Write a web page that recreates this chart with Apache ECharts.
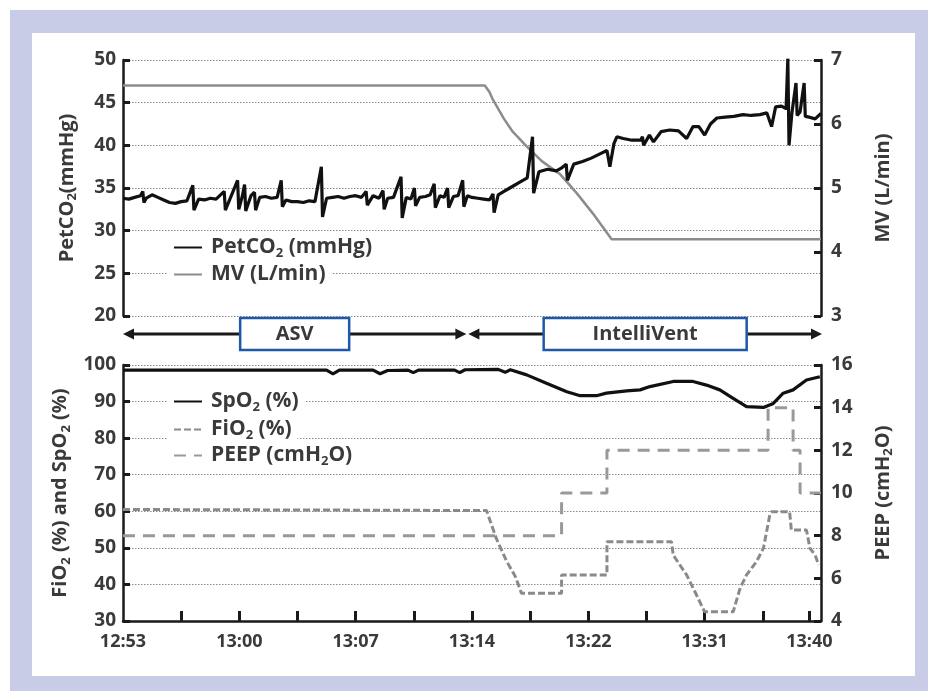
<!DOCTYPE html>
<html>
<head>
<meta charset="utf-8">
<script src="https://cdn.jsdelivr.net/npm/echarts@6/dist/echarts.min.js"></script>
<style>
  html, body { margin:0; padding:0; background:#ffffff; }
  #frame { position:absolute; left:10px; top:10px; width:918px; height:681px; background:#C8CCE6; }
  #panel { position:absolute; left:32px; top:33px; width:883px; height:643px; background:#ffffff; }
  #chart { position:absolute; left:0; top:0; width:928px; height:691px; }
</style>
</head>
<body>
<div id="frame"></div>
<div id="panel"></div>
<div id="chart"></div>
<script>
// ---------- DATA (x in tick units of the schematic time axis) ----------
const xLabelPos = [0, 2, 4, 6, 8, 10, 11.8];
const xLabels   = ['12:53', '13:00', '13:07', '13:14', '13:22', '13:31', '13:40'];
const xTickPos  = [1, 2, 3, 4, 5, 6, 7, 8, 9, 10, 11, 11.8];

const petco2 = [
  [0,33.8],[0.1,33.7],[0.2,33.9],[0.3,34.1],[0.34,34.6],[0.36,33.3],[0.4,33.8],[0.5,34.2],[0.6,33.9],
  [0.7,33.6],[0.8,33.3],[0.9,33.2],[1.0,33.4],[1.1,33.5],[1.2,35.3],[1.22,32.4],[1.3,33.7],[1.4,33.6],
  [1.5,33.8],[1.6,33.7],[1.74,34.6],[1.76,32.4],[1.85,33.9],[1.97,35.9],[1.99,32.5],[2.05,34.0],
  [2.09,35.4],[2.11,32.3],[2.2,34.1],[2.26,34.5],[2.28,32.4],[2.35,33.9],[2.45,34.0],[2.55,33.8],
  [2.65,33.9],[2.72,35.9],[2.74,32.8],[2.8,33.6],[2.9,33.4],[3.0,33.4],[3.1,33.3],[3.2,33.5],[3.3,33.4],
  [3.41,37.5],[3.43,31.6],[3.5,33.8],[3.6,33.9],[3.7,34.0],[3.8,33.8],[3.9,34.0],[4.0,34.1],[4.1,33.9],
  [4.18,34.6],[4.2,33.0],[4.3,34.1],[4.4,33.8],[4.47,34.7],[4.49,32.5],[4.55,33.8],[4.65,33.9],
  [4.78,36.3],[4.8,31.5],[4.87,33.9],[4.95,33.7],[5.01,35.0],[5.03,32.9],[5.1,33.9],[5.2,34.0],[5.28,34.2],
  [5.35,35.5],[5.37,32.7],[5.45,34.1],[5.52,33.9],[5.58,35.0],[5.6,32.7],[5.68,34.0],[5.76,34.1],
  [5.84,35.9],[5.86,32.8],[5.92,34.1],[6.0,33.9],[6.1,33.8],[6.2,33.7],[6.3,33.6],[6.36,34.3],[6.38,32.1],
  [6.45,34.2],[6.55,34.6],[6.65,35.0],[6.8,35.6],[6.95,36.2],[7.04,41.0],[7.06,34.4],[7.15,36.9],
  [7.3,37.2],[7.45,37.0],[7.55,37.4],[7.62,37.8],[7.64,35.9],[7.75,37.8],[7.9,38.1],[8.05,38.5],
  [8.2,39.0],[8.32,39.4],[8.37,37.5],[8.44,40.2],[8.49,41.0],[8.6,40.8],[8.75,40.6],[8.9,40.6],
  [8.93,41.0],[8.95,40.0],[9.05,41.2],[9.12,40.4],[9.25,41.6],[9.4,41.8],[9.55,41.7],[9.69,40.8],
  [9.8,42.2],[9.9,42.2],[10.0,41.2],[10.1,42.5],[10.21,43.2],[10.35,43.3],[10.5,43.4],[10.66,43.6],
  [10.8,43.5],[10.95,43.6],[11.07,43.8],[11.15,42.2],[11.22,44.5],[11.32,44.6],[11.4,44.3],
  [11.43,50.2],[11.45,40.0],[11.5,43.8],[11.57,47.3],[11.59,43.5],[11.64,43.9],[11.71,47.3],[11.73,43.4],
  [11.8,43.3],[11.9,43.1],[12.0,43.75]
];

const mv = [
  [0,6.6],[6.22,6.6],[6.3,6.5],[6.36,6.38],[6.55,6.08],[6.7,5.88],[6.94,5.65],[7.2,5.42],
  [7.51,5.22],[7.8,4.92],[8.08,4.6],[8.4,4.2],[12,4.2]
];

const spo2 = [
  [0,98.6],[3.5,98.6],[3.61,97.6],[3.72,98.6],[4.3,98.6],[4.42,97.6],[4.55,98.5],[4.9,98.6],[4.99,97.9],
  [5.08,98.6],[5.7,98.6],[5.79,97.9],[5.88,98.7],[6.45,98.8],[6.57,98.0],[6.66,98.7],[6.94,97.3],
  [7.28,95.0],[7.63,92.7],[7.86,91.6],[8.14,91.6],[8.31,92.3],[8.66,92.9],[8.89,93.2],[9.06,94.1],
  [9.46,95.5],[9.8,95.5],[10.03,94.5],[10.26,93.2],[10.49,90.9],[10.72,88.6],[11.01,88.4],[11.18,89.5],
  [11.35,92.3],[11.52,93.2],[11.75,95.9],[11.98,96.8]
];

const fio2 = [
  [0,60.5],[6.25,60.2],[6.42,52.5],[6.59,46.5],[6.74,42.3],[6.82,39.0],[6.85,37.6],[7.54,37.6],
  [7.54,42.6],[8.32,42.6],[8.32,51.7],[9.43,51.7],[9.46,48.0],[9.69,42.6],[9.86,37.1],[10.0,32.5],
  [10.49,32.5],[10.61,39.0],[10.72,42.6],[10.89,46.2],[11.01,49.9],[11.12,59.0],[11.15,59.9],
  [11.46,59.9],[11.49,54.9],[11.75,54.9],[11.81,49.9],[11.9,48.0],[11.96,45.3]
];

const peep = [
  [0,8],[7.54,8],[7.54,10],[8.32,10],[8.32,12],[11.09,12],[11.09,14],[11.52,14],[11.52,12],
  [11.64,12],[11.64,10],[12,10]
];

const phases = [
  { label: 'ASV', from: 0, to: 5.92 },
  { label: 'IntelliVent', from: 5.92, to: 12 }
];

// ---------- STYLE ----------
const FONT = '"Open Sans"';
const FW = 'bold';
const TXT = '#3a3a3a';
const AX = '#1a1a1a';
const richSmall = {
  t: { fontFamily: FONT, fontWeight: FW, fontSize: 20, color: TXT, lineHeight: 24 },
  s: { fontFamily: FONT, fontWeight: FW, fontSize: 13, color: TXT, lineHeight: 9, verticalAlign: 'bottom' }
};
const richLegend = {
  f: { fontFamily: FONT, fontWeight: FW, fontSize: 21, color: TXT, lineHeight: 25, padding: [0,0,0,4] },
  t: { fontFamily: FONT, fontWeight: FW, fontSize: 21, color: TXT, lineHeight: 25 },
  s: { fontFamily: FONT, fontWeight: FW, fontSize: 13, color: TXT, lineHeight: 10, verticalAlign: 'bottom' }
};
const legendText = {
  'PetCO2 (mmHg)': '{f|PetCO}{s|2}{t| (mmHg)}',
  'MV (L/min)': '{f|MV (L/min)}',
  'SpO2 (%)': '{f|SpO}{s|2}{t| (%)}',
  'FiO2 (%)': '{f|FiO}{s|2}{t| (%)}',
  'PEEP (cmH2O)': '{f|PEEP (cmH}{s|2}{t|O)}'
};

function yAx(grid, pos, min, max, interval, name, gap, split) {
  return {
    type: 'value', gridIndex: grid, position: pos, min: min, max: max, interval: interval,
    name: name, nameLocation: 'middle', nameGap: gap, nameRotate: 90,
    nameTextStyle: { rich: richSmall, fontFamily: FONT, fontWeight: FW, fontSize: 20, color: TXT },
    axisLine: { show: true, onZero: false, lineStyle: { color: AX, width: 2.5 } },
    axisTick: { show: true, inside: true, length: 7, lineStyle: { color: AX, width: 3 } },
    axisLabel: { fontFamily: FONT, fontWeight: FW, fontSize: 19, color: TXT, margin: pos === 'left' ? 7 : 10 },
    splitLine: { show: split, lineStyle: { color: '#8a8a8a', width: 1, type: [1.5, 1.5] } }
  };
}

function legendFor(name, top) {
  return {
    data: [name], left: 167, top: top, orient: 'vertical',
    itemWidth: 28, itemHeight: 14, itemGap: 0, padding: [1, 6, 1, 6],
    backgroundColor: '#ffffff', selectedMode: false,
    itemStyle: { color: 'rgba(0,0,0,0)', borderWidth: 0, opacity: 0 },
    formatter: n => legendText[n],
    textStyle: { rich: richLegend, fontFamily: FONT, fontWeight: FW, fontSize: 21, color: TXT }
  };
}

const chart = echarts.init(document.getElementById('chart'), null, { renderer: 'canvas' });
chart.setOption({
  backgroundColor: 'transparent',
  animation: false,
  grid: [
    { left: 123, top: 60, width: 698, height: 256 },
    { left: 123, top: 365, width: 698, height: 256 }
  ],
  xAxis: [
    { type: 'value', gridIndex: 0, min: 0, max: 12, show: false },
    {
      type: 'value', gridIndex: 1, min: 0, max: 12, interval: 1,
      axisLine: { show: true, onZero: false, lineStyle: { color: AX, width: 2.5 } },
      axisTick: { show: true, inside: true, length: 10, customValues: xTickPos, lineStyle: { color: AX, width: 3 } },
      axisLabel: {
        customValues: xLabelPos, margin: 12,
        fontFamily: FONT, fontWeight: FW, fontSize: 18, color: TXT,
        formatter: v => { const i = xLabelPos.findIndex(p => Math.abs(p - v) < 1e-6); return i >= 0 ? xLabels[i] : ''; }
      },
      splitLine: { show: false }
    }
  ],
  yAxis: [
    yAx(0, 'left', 20, 50, 5, '{t|PetCO}{s|2}{t|(mmHg)}', 44, true),
    yAx(0, 'right', 3, 7, 1, '{t|MV (L/min)}', 50, false),
    yAx(1, 'left', 30, 100, 10, '{t|FiO}{s|2}{t| (%) and SpO}{s|2}{t| (%)}', 44, true),
    yAx(1, 'right', 4, 16, 2, '{t|PEEP (cmH}{s|2}{t|O)}', 50, false)
  ],
  legend: [
    legendFor('PetCO2 (mmHg)', 236),
    legendFor('MV (L/min)', 263),
    legendFor('SpO2 (%)', 390),
    legendFor('FiO2 (%)', 418),
    legendFor('PEEP (cmH2O)', 444)
  ],
  series: [
    { name: 'MV (L/min)', type: 'line', xAxisIndex: 0, yAxisIndex: 1, data: mv, symbol: 'none',
      lineStyle: { color: '#8c8c8c', width: 2.5 }, itemStyle: { color: '#8c8c8c' } },
    { name: 'PetCO2 (mmHg)', type: 'line', xAxisIndex: 0, yAxisIndex: 0, data: petco2, symbol: 'none',
      lineStyle: { color: '#111111', width: 3.2 }, itemStyle: { color: '#111111' } },
    { name: 'PEEP (cmH2O)', type: 'line', xAxisIndex: 1, yAxisIndex: 3, data: peep, symbol: 'none',
      lineStyle: { color: '#999999', width: 3, type: [12, 8] }, itemStyle: { color: '#999999' } },
    { name: 'FiO2 (%)', type: 'line', xAxisIndex: 1, yAxisIndex: 2, data: fio2, symbol: 'none',
      lineStyle: { color: '#8a8a8a', width: 3, type: [7, 3] }, itemStyle: { color: '#8a8a8a' } },
    { name: 'SpO2 (%)', type: 'line', xAxisIndex: 1, yAxisIndex: 2, data: spo2, symbol: 'none',
      lineStyle: { color: '#111111', width: 3.2 }, itemStyle: { color: '#111111' } }
  ]
});

// ---------- phase arrows / boxes between the two panels ----------
const boxW = { 'ASV': 109, 'IntelliVent': 203 };
const topBottom = chart.convertToPixel({ yAxisIndex: 0 }, 20);
const bandY = topBottom + 18;
const g = [];
phases.forEach(ph => {
  const x1 = chart.convertToPixel({ xAxisIndex: 1 }, ph.from) + (ph.from > 0 ? 1 : 0);
  const x2 = chart.convertToPixel({ xAxisIndex: 1 }, ph.to) - (ph.to < 12 ? 1 : -1);
  const ah = 11, aw = 5.5;
  g.push({ type: 'line', shape: { x1: x1 + ah - 1, y1: bandY, x2: x2 - ah + 1, y2: bandY }, style: { stroke: AX, lineWidth: 3 }, z: 10 });
  g.push({ type: 'polygon', shape: { points: [[x1, bandY], [x1 + ah, bandY - aw], [x1 + ah, bandY + aw]] }, style: { fill: AX }, z: 10 });
  g.push({ type: 'polygon', shape: { points: [[x2, bandY], [x2 - ah, bandY - aw], [x2 - ah, bandY + aw]] }, style: { fill: AX }, z: 10 });
  const cx = (x1 + x2) / 2, w = boxW[ph.label];
  g.push({ type: 'rect', shape: { x: cx - w / 2, y: bandY - 16, width: w, height: 32 },
    style: { fill: '#ffffff', stroke: '#1f58a8', lineWidth: 2.5 }, z: 11 });
  g.push({ type: 'text', x: cx, y: bandY, style: { text: ph.label, x: 0, y: 0, align: 'center', verticalAlign: 'middle',
    font: 'bold 20px "Open Sans"', fill: TXT }, z: 12 });
});
chart.setOption({ graphic: g });
</script>
</body>
</html>
